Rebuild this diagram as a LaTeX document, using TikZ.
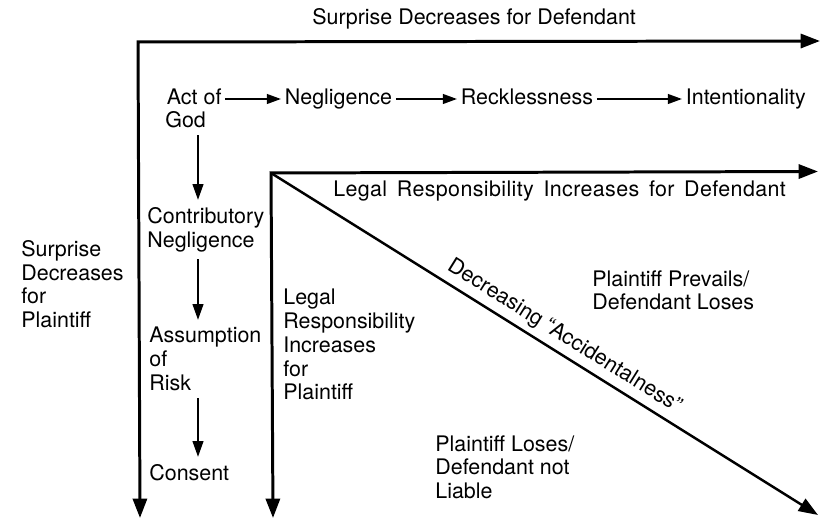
\documentclass[tikz,border=0pt]{standalone}
\usepackage{fontspec}
\setmainfont{TeX Gyre Heros}
\usetikzlibrary{arrows.meta,calc,positioning}
\usepackage{tkz-euclide}
\newcommand\figfont{\fontsize{12.2}{13.5}\selectfont}

\tikzset{
  lbl/.style={anchor=north west,inner sep=0pt,align=left,font=\figfont},
  word/.style={anchor=west,inner sep=2pt,text height=8.8pt,text depth=2.6pt,font=\figfont},
  axisarrow/.style={line width=1.7pt,line join=miter,-{Triangle[length=11pt,width=8pt]}},
  steparrow/.style={line width=1.1pt,-{Triangle[length=8pt,width=5.5pt]}},
  colarrow/.style={line width=1.3pt,shorten <=4pt,shorten >=4pt,-{Triangle[length=9pt,width=6pt]}}
}

\begin{document}
\begin{tikzpicture}
\useasboundingbox (0,0) rectangle (16.56,10.4);

\tkzDefPoints{2.76/9.56/O,16.40/9.58/E,2.80/0.04/S,5.42/6.94/P,16.36/6.97/F,5.46/0.04/T,16.36/0.10/U}

% the two frames
\draw[axisarrow,{Triangle[length=11pt,width=8pt]}-{Triangle[length=11pt,width=8pt]}] (S) -- (O) -- (E);
\draw[axisarrow,{Triangle[length=11pt,width=8pt]}-{Triangle[length=11pt,width=8pt]}] (T) -- (P) -- (F);
\draw[axisarrow,line width=1.4pt] (P) -- (U)
  node[pos=.52,above,sloped,inner sep=3pt,font=\figfont] (acc) {Decreasing ``Accidentalness''};

\node[lbl] (ttl) at (6.24,10.24) {Surprise Decreases for Defendant};

% top row
\node[word] (actof) at (3.26,8.42) {Act of};
\node[lbl] (god) at (3.30,8.18) {God};
\node[word] (neg) at (5.62,8.42) {Negligence};
\node[word] (reck) at (9.14,8.42) {Recklessness};
\node[word] (intent) at (13.64,8.42) {Intentionality};
\draw[steparrow] (actof) -- (neg);
\draw[steparrow] (neg) -- (reck);
\draw[steparrow] (reck) -- (intent);

% left column
\coordinate (colx) at (3.96,0);
\node[lbl] (contrib) at (2.94,6.26) {Contributory\\Negligence};
\node[lbl] (assume) at (2.98,3.86) {Assumption\\of\\Risk};
\node[lbl] (consent) at (2.98,1.12) {Consent};
\draw[colarrow] (god.south -| colx) -- (contrib.north -| colx);
\draw[colarrow] (contrib.south -| colx) -- (assume.north -| colx);
\draw[colarrow] (assume.south -| colx) -- (consent.north -| colx);

\node[lbl] (sdp) at (0.42,5.60) {Surprise\\Decreases\\for\\Plaintiff};
\node[lbl] (lrp) at (5.66,4.62) {Legal\\Responsibility\\Increases\\for\\Plaintiff};
\node[lbl,font={\figfont\addfontfeatures{LetterSpace=1.8}\spaceskip=0.45em plus 0.1em}] (lrd) at (6.66,6.80) {Legal Responsibility Increases for Defendant};
\node[lbl] (ppd) at (11.84,5.00) {Plaintiff Prevails/\\Defendant Loses};
\node[lbl] (pld) at (8.70,1.70) {Plaintiff Loses/\\Defendant not\\Liable};

\end{tikzpicture}
\end{document}
